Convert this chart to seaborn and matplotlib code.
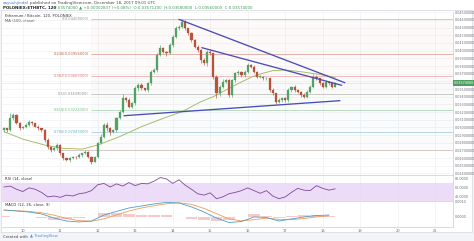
import numpy as np
import pandas as pd
import matplotlib
matplotlib.use("Agg")
import matplotlib.pyplot as plt
import seaborn as sns
from matplotlib.patches import Rectangle

# ---------------- data ----------------
start_time = "2017-12-09 12:00"
closes = [0.02987, 0.02965, 0.03118, 0.03161, 0.03052, 0.02987, 0.03009, 0.03031, 0.03074, 0.03052,
          0.03009, 0.02987, 0.02965, 0.02835, 0.02748, 0.02705, 0.02726, 0.02770, 0.02661, 0.02596,
          0.02574, 0.02596, 0.02618, 0.02610, 0.02640, 0.02661, 0.02683, 0.02618, 0.02553, 0.02618,
          0.02792, 0.02879, 0.03031, 0.02987, 0.02944, 0.02965, 0.03118, 0.03205, 0.03378, 0.03357,
          0.03270, 0.03313, 0.03509, 0.03552, 0.03509, 0.03487, 0.03574, 0.03726, 0.03748, 0.03943,
          0.04030, 0.03987, 0.03965, 0.04074, 0.04182, 0.04291, 0.04313, 0.04378, 0.04291, 0.04226,
          0.04139, 0.04052, 0.04008, 0.03878, 0.03835, 0.03987, 0.03965, 0.03661, 0.03444, 0.03530,
          0.03596, 0.03617, 0.03422, 0.03617, 0.03704, 0.03726, 0.03683, 0.03726, 0.03813, 0.03791,
          0.03726, 0.03661, 0.03661, 0.03639, 0.03639, 0.03487, 0.03444, 0.03335, 0.03357, 0.03378,
          0.03357, 0.03487, 0.03530, 0.03487, 0.03465, 0.03422, 0.03400, 0.03465, 0.03530, 0.03661,
          0.03639, 0.03574, 0.03530, 0.03596, 0.03574, 0.03530, 0.03574]
first_open = 0.02965
upper_wick = [2, 1, 7, 3, 1, 2, 1, 2, 2, 1, 1, 2, 1, 1, 2, 1, 2, 2, 1, 1, 1, 2, 1, 1, 2, 1, 2, 1, 1, 1,
              2, 3, 2, 4, 2, 1, 2, 2, 6, 2, 3, 2, 3, 2, 2, 1, 2, 2, 3, 2, 4, 2, 1, 2, 2, 3, 2, 4, 2, 1,
              2, 1, 2, 1, 2, 2, 3, 1, 2, 2, 3, 2, 1, 2, 2, 2, 1, 2, 3, 1, 2, 1, 2, 1, 2, 1, 2, 1, 2, 1,
              2, 2, 1, 2, 1, 1, 2, 2, 2, 3, 2, 1, 2, 2, 1, 2, 2]
lower_wick = [2, 2, 1, 2, 1, 2, 1, 2, 1, 2, 1, 2, 2, 2, 3, 2, 1, 2, 2, 2, 1, 2, 1, 2, 1, 2, 1, 2, 3, 1,
              2, 1, 2, 3, 4, 2, 2, 1, 2, 3, 2, 2, 2, 3, 2, 1, 2, 2, 2, 2, 1, 2, 3, 1, 2, 2, 2, 2, 2, 2,
              2, 2, 3, 4, 2, 3, 2, 3, 6, 3, 2, 2, 3, 2, 2, 2, 2, 2, 2, 2, 2, 2, 2, 2, 2, 2, 2, 3, 2, 2,
              2, 2, 2, 2, 2, 2, 2, 2, 2, 2, 2, 2, 2, 2, 2, 2, 1]
wick_unit = 0.0001

ma_idx = [0, 6, 13, 19, 25, 30, 37, 44, 51, 57, 63, 67, 74, 79, 82, 86, 90, 95, 100, 106]
ma_val = [0.02944, 0.02847, 0.02770, 0.02726, 0.02717, 0.02770, 0.02879, 0.03009, 0.03118, 0.03205,
          0.03335, 0.03400, 0.03552, 0.03652, 0.03696, 0.03739, 0.03748, 0.03726, 0.03696, 0.03652]

rsi_idx = list(range(0, 107, 2))
rsi_val = [60, 62, 55, 50, 58, 55, 48, 38, 40, 37, 42, 40, 45, 47, 52, 65, 68, 60, 67, 62,
           70, 63, 68, 67, 73, 81, 78, 68, 76, 64, 55, 45, 42, 47, 34, 38, 45, 48, 52, 58,
           52, 46, 52, 40, 34, 38, 48, 57, 53, 52, 63, 57, 53, 56]

macd_idx = list(range(0, 107, 4))
macd_val = [0.00045, 0.00038, 0.00031, 0.00018, -0.00009, -0.00029, -0.00035, -0.00029, 0.00011, 0.00035,
            0.00058, 0.00071, 0.00085, 0.00095, 0.00091, 0.00065, 0.00031, -0.00009, -0.00039, -0.00032,
            -0.00002, -0.00005, -0.00029, -0.00015, -0.00002, 0.00008, 0.00011]
signal_val = [0.00042, 0.00040, 0.00035, 0.00026, 0.00010, -0.00012, -0.00026, -0.00030, -0.00015, 0.00012,
              0.00038, 0.00058, 0.00073, 0.00086, 0.00092, 0.00082, 0.00055, 0.00020, -0.00015, -0.00028,
              -0.00020, -0.00010, -0.00018, -0.00020, -0.00012, -0.00002, 0.00006]

fib_levels = [0, 0.236, 0.382, 0.5, 0.618, 0.786, 1]
fib_prices = [0.04408, 0.03956, 0.03669, 0.03439, 0.03222, 0.02943, 0.02709]
fib_colors = ["#8a8a8a", "#b0442c", "#e06060", "#7a7a7a", "#5cae6a", "#4f9fb8", "#b08080"]
fib_labelled = [True, True, True, True, True, True, False]

trend_x = [[56.0, 109.1], [63.3, 108.1], [38.4, 107.5]]
trend_y = [[0.04408, 0.03582], [0.04039, 0.03548], [0.03152, 0.03348]]

day_labels = ["10", "11", "12", "13", "14", "15", "16", "17", "18", "19", "20", "21"]
price_ticks = [0.024 + 0.001 * k for k in range(22)]
rsi_ticks = [40, 60, 80]
macd_ticks = [0.0, 0.001]

# ---------------- derived ----------------
times = pd.date_range(start_time, periods=len(closes), freq="2h")
opens = [first_open] + closes[:-1]
highs = [max(o, c) + u * wick_unit for o, c, u in zip(opens, closes, upper_wick)]
lows = [min(o, c) - l * wick_unit for o, c, l in zip(opens, closes, lower_wick)]
idx = np.arange(len(closes))
t0 = times[0]
day_pos = [(pd.Timestamp(f"2017-12-{d} 00:00") - t0) / pd.Timedelta("2h") for d in day_labels]

# ---------------- figure ----------------
sns.set_theme(style="white")
plt.rcParams["font.family"] = ["DejaVu Sans"]
W, H = 474, 241
fig = plt.figure(figsize=(W / 100, H / 100), dpi=100, facecolor="#f2f4f8")

def fy(px):
    return 1 - px / H

def fx(px):
    return px / W

# white chart frame (drawn behind the axes)
bg = fig.add_axes([0, 0, 1, 1], zorder=-10)
bg.set_xlim(0, W)
bg.set_ylim(H, 0)
bg.axis("off")
bg.add_patch(Rectangle((1, 10), 471, 222, facecolor="white", edgecolor="#d5d8de", linewidth=0.5))
bg.add_patch(Rectangle((0, 0), W, 9.5, facecolor="white", edgecolor="none"))

x_left, x_right = fx(2), fx(453)
ax = fig.add_axes([x_left, fy(175), x_right - x_left, fy(12) - fy(175)])
ax_rsi = fig.add_axes([x_left, fy(200.5), x_right - x_left, fy(175.5) - fy(200.5)], sharex=ax)
ax_macd = fig.add_axes([x_left, fy(227), x_right - x_left, fy(201.5) - fy(227)], sharex=ax)

xlim = (-0.64, 143.7)
grid_c = "#f0f1f3"
for a in (ax, ax_rsi, ax_macd):
    a.set_facecolor("none")
    for s in a.spines.values():
        s.set_color("#c8ccd2")
        s.set_linewidth(0.5)
    a.spines["left"].set_visible(False)
    a.spines["top"].set_visible(False)
    a.yaxis.tick_right()
    a.tick_params(axis="y", labelsize=2.4, colors="#6b6f75", length=0, pad=1.2)
    a.tick_params(axis="x", length=0)
    for d in day_pos:
        a.axvline(d, color=grid_c, lw=0.5, zorder=0)
ax.set_xlim(*xlim)

# price panel
ax.set_ylim(0.02379, 0.04504)
ax.set_yticks(price_ticks)
ax.set_yticklabels([f"{p:.8f}" for p in price_ticks])
for p in price_ticks:
    ax.axhline(p, color=grid_c, lw=0.5, zorder=0)
plt.setp(ax.get_xticklabels(), visible=False)

# fib levels
fib_start = 27.8
for k in range(len(fib_levels) - 1):
    ax.fill_between([fib_start, xlim[1]], fib_prices[k + 1], fib_prices[k],
                    color=fib_colors[k + 1], alpha=0.03, lw=0, zorder=0.5)
for lvl, pr, col, lab in zip(fib_levels, fib_prices, fib_colors, fib_labelled):
    st = fib_start if lab else 18.0
    ax.plot([st, xlim[1]], [pr, pr], color=col, lw=0.5, alpha=0.55, zorder=1)
    if lab:
        ax.text(fib_start - 0.6, pr, f"{lvl:g}({pr:.8f})", color=col, fontsize=2.6,
                ha="right", va="center", alpha=0.85, zorder=2)

# candles
up_c, dn_c = "#53a265", "#b9523a"
colors = [up_c if c >= o else dn_c for o, c in zip(opens, closes)]
ax.vlines(idx, lows, highs, colors=colors, lw=0.45, zorder=3)
body_b = [min(o, c) for o, c in zip(opens, closes)]
body_h = [max(abs(c - o), 0.00004) for o, c in zip(opens, closes)]
ax.bar(idx, body_h, bottom=body_b, width=0.68, color=colors, edgecolor=colors, lw=0.2, zorder=4)

# moving average
sns.lineplot(x=ma_idx, y=ma_val, ax=ax, color="#a3b865", lw=0.65, zorder=2, legend=False)

# trend lines
for tx, ty in zip(trend_x, trend_y):
    ax.plot(tx, ty, color="#4a4db5", lw=0.95, zorder=5, solid_capstyle="round")

# last price box
last = closes[-1]
ax.text(1.002, last, f"{last:.8f}", transform=ax.get_yaxis_transform(), fontsize=2.4,
        color="white", va="center", ha="left",
        bbox=dict(boxstyle="square,pad=0.3", fc="#4f9d5e", ec="none"), zorder=6, clip_on=False)
ax.axhline(last, color="#4f9d5e", lw=0.4, ls=(0, (1, 1)), alpha=0.5, zorder=1)

ax.text(0.006, 0.985, "Ethereum / Bitcoin, 120, POLONIEX", transform=ax.transAxes, fontsize=2.7,
        color="#333333", va="top", ha="left")
ax.text(0.006, 0.955, "MA (100, close)", transform=ax.transAxes, fontsize=2.7,
        color="#555555", va="top", ha="left")

# RSI panel
ax_rsi.set_ylim(30, 85.6)
ax_rsi.axhspan(30, 70, color="#e9d4f6", alpha=0.8, lw=0, zorder=0.2)
sns.lineplot(x=rsi_idx, y=rsi_val, ax=ax_rsi, color="#7b4a9c", lw=0.6, legend=False)
ax_rsi.set_yticks(rsi_ticks)
ax_rsi.set_yticklabels([f"{v:.4f}" for v in rsi_ticks])
plt.setp(ax_rsi.get_xticklabels(), visible=False)
ax_rsi.text(0.006, 0.93, "RSI (14, close)", transform=ax_rsi.transAxes, fontsize=2.7,
            color="#333333", va="top", ha="left")

# MACD panel
ax_macd.set_ylim(-0.000687, 0.00101)
hist = [m - s for m, s in zip(macd_val, signal_val)]
ax_macd.bar(macd_idx, hist, width=3.6, color="#f2a0a0", alpha=0.55, lw=0, zorder=1)
sns.lineplot(x=macd_idx, y=macd_val, ax=ax_macd, color="#4aa0c8", lw=0.6, legend=False, zorder=3)
sns.lineplot(x=macd_idx, y=signal_val, ax=ax_macd, color="#f09a5a", lw=0.6, legend=False, zorder=2)
ax_macd.set_yticks(macd_ticks)
ax_macd.set_yticklabels([f"{v:.4f}" for v in macd_ticks])
ax_macd.set_xticks(day_pos)
ax_macd.set_xticklabels(day_labels)
ax_macd.tick_params(axis="x", labelsize=2.6, colors="#6b6f75", pad=1.2)
ax_macd.set_xlim(*xlim)
ax_macd.text(0.006, 0.93, "MACD (12, 26, close, 9)", transform=ax_macd.transAxes, fontsize=2.7,
             color="#333333", va="top", ha="left")
for a in (ax, ax_rsi, ax_macd):
    a.set_xlabel("")
    a.set_ylabel("")

# header and footer
fig.text(fx(3), fy(3.2), "aayushjindal", fontsize=2.9, color="#3a7bd5", va="center", ha="left")
fig.text(fx(30), fy(3.2), "published on TradingView.com, December 18, 2017 09:01 UTC",
         fontsize=2.9, color="#444444", va="center", ha="left")
fig.text(fx(3), fy(7.4), "POLONIEX:ETHBTC, 120", fontsize=2.9, color="#222222",
         fontweight="bold", va="center", ha="left")
fig.text(fx(54), fy(7.4), f"{last:.8f} \u25b2 +0.00002837 (+0.08%)  O:0.03571200  H:0.03580000  "
         f"L:0.03560000  C:{last:.8f}", fontsize=2.9, color="#3e9b52", va="center", ha="left")
fig.text(fx(3), fy(236.5), "Created with", fontsize=2.8, color="#444444", va="center", ha="left")
fig.text(fx(30), fy(236.5), "\u25b2 TradingView", fontsize=2.8, color="#4a90d9", va="center", ha="left")

fig.savefig("out.png", dpi=100, facecolor=fig.get_facecolor())
